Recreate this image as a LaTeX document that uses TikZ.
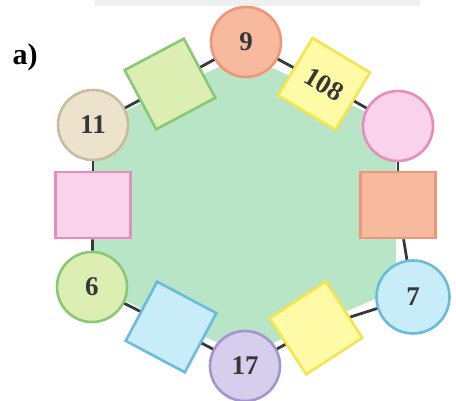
\documentclass[tikz,border=0pt]{standalone}
\usepackage{fontspec}
\setmainfont{Liberation Serif}
\definecolor{hexgreen}{RGB}{183,229,198}
\definecolor{numgray}{RGB}{55,55,55}
\definecolor{linkgray}{RGB}{50,60,58}
\definecolor{salmonfill}{RGB}{248,186,158}
\definecolor{salmonline}{RGB}{238,150,122}
\definecolor{yelfill}{RGB}{255,250,165}
\definecolor{yelline}{RGB}{244,228,80}
\definecolor{pinkfill}{RGB}{249,210,236}
\definecolor{pinkline}{RGB}{232,140,190}
\definecolor{bluefill}{RGB}{200,236,248}
\definecolor{blueline}{RGB}{105,188,222}
\definecolor{lilacfill}{RGB}{214,206,236}
\definecolor{lilacline}{RGB}{165,148,205}
\definecolor{limefill}{RGB}{220,238,178}
\definecolor{limeline}{RGB}{138,200,118}
\definecolor{sandfill}{RGB}{237,227,204}
\definecolor{sandline}{RGB}{200,188,160}
\tikzset{
  num/.style={font=\fontsize{13.5}{16}\selectfont\bfseries,text=numgray},
  ring/.style={circle,draw,line width=1.3pt,minimum size=35pt,inner sep=0pt,num},
  box/.style={rectangle,draw,line width=1.3pt,minimum width=33.5pt,minimum height=33.5pt,inner sep=0pt,num},
  widebox/.style={box,minimum width=37.5pt,minimum height=33pt},
  link/.style={line width=1.4pt,draw=linkgray}
}
\begin{document}
\begin{tikzpicture}[x=0.5pt,y=0.5pt]
  \useasboundingbox (0,0) rectangle (456,401);
  % 顶部灰边
  \fill[black!6] (95,395) rectangle (420,401);
  % 六边形底色
  \fill[hexgreen] (245,346) -- (396,275) -- (396,111) -- (245,46)
    -- (94,114) -- (94,276) -- cycle;
  % 标号 a)
  \node[font=\fontsize{15}{17}\selectfont\bfseries] (lab) at (25,344) {a)};
  % 六个顶点（圆）
  \node[ring,fill=salmonfill,draw=salmonline] (c9) at (246,359) {9};
  \node[ring,fill=pinkfill,draw=pinkline] (cp) at (398,275) {};
  \node[ring,fill=bluefill,draw=blueline,minimum size=36.5pt] (c7) at (413,104) {7};
  \node[ring,fill=lilacfill,draw=lilacline] (c17) at (245,35) {17};
  \node[ring,fill=limefill,draw=limeline] (c6) at (92,114) {6};
  \node[ring,fill=sandfill,draw=sandline] (c11) at (93,276) {11};
  % 六条边上的方块
  \node[box,fill=limefill,draw=limeline,rotate=28] (sg) at (170,317) {};
  \node[box,fill=yelfill,draw=yelline,rotate=-31] (s108) at (324,317) {108};
  \node[widebox,fill=salmonfill,draw=salmonline] (so) at (398,196) {};
  \node[box,fill=yelfill,draw=yelline,rotate=33] (sy) at (316,73) {};
  \node[box,fill=bluefill,draw=blueline,rotate=-28] (sb) at (171,74) {};
  \node[widebox,fill=pinkfill,draw=pinkline] (sp) at (93,196) {};
  % 连线
  \draw[link] (c9) -- (s108);
  \draw[link] (s108) -- (cp);
  \draw[link] (cp) -- (so);
  \draw[link] (so) -- (c7);
  \draw[link] (c7) -- (sy);
  \draw[link] (sy) -- (c17);
  \draw[link] (c17) -- (sb);
  \draw[link] (sb) -- (c6);
  \draw[link] (c6) -- (sp);
  \draw[link] (sp) -- (c11);
  \draw[link] (c11) -- (sg);
  \draw[link] (sg) -- (c9);
\end{tikzpicture}
\end{document}
